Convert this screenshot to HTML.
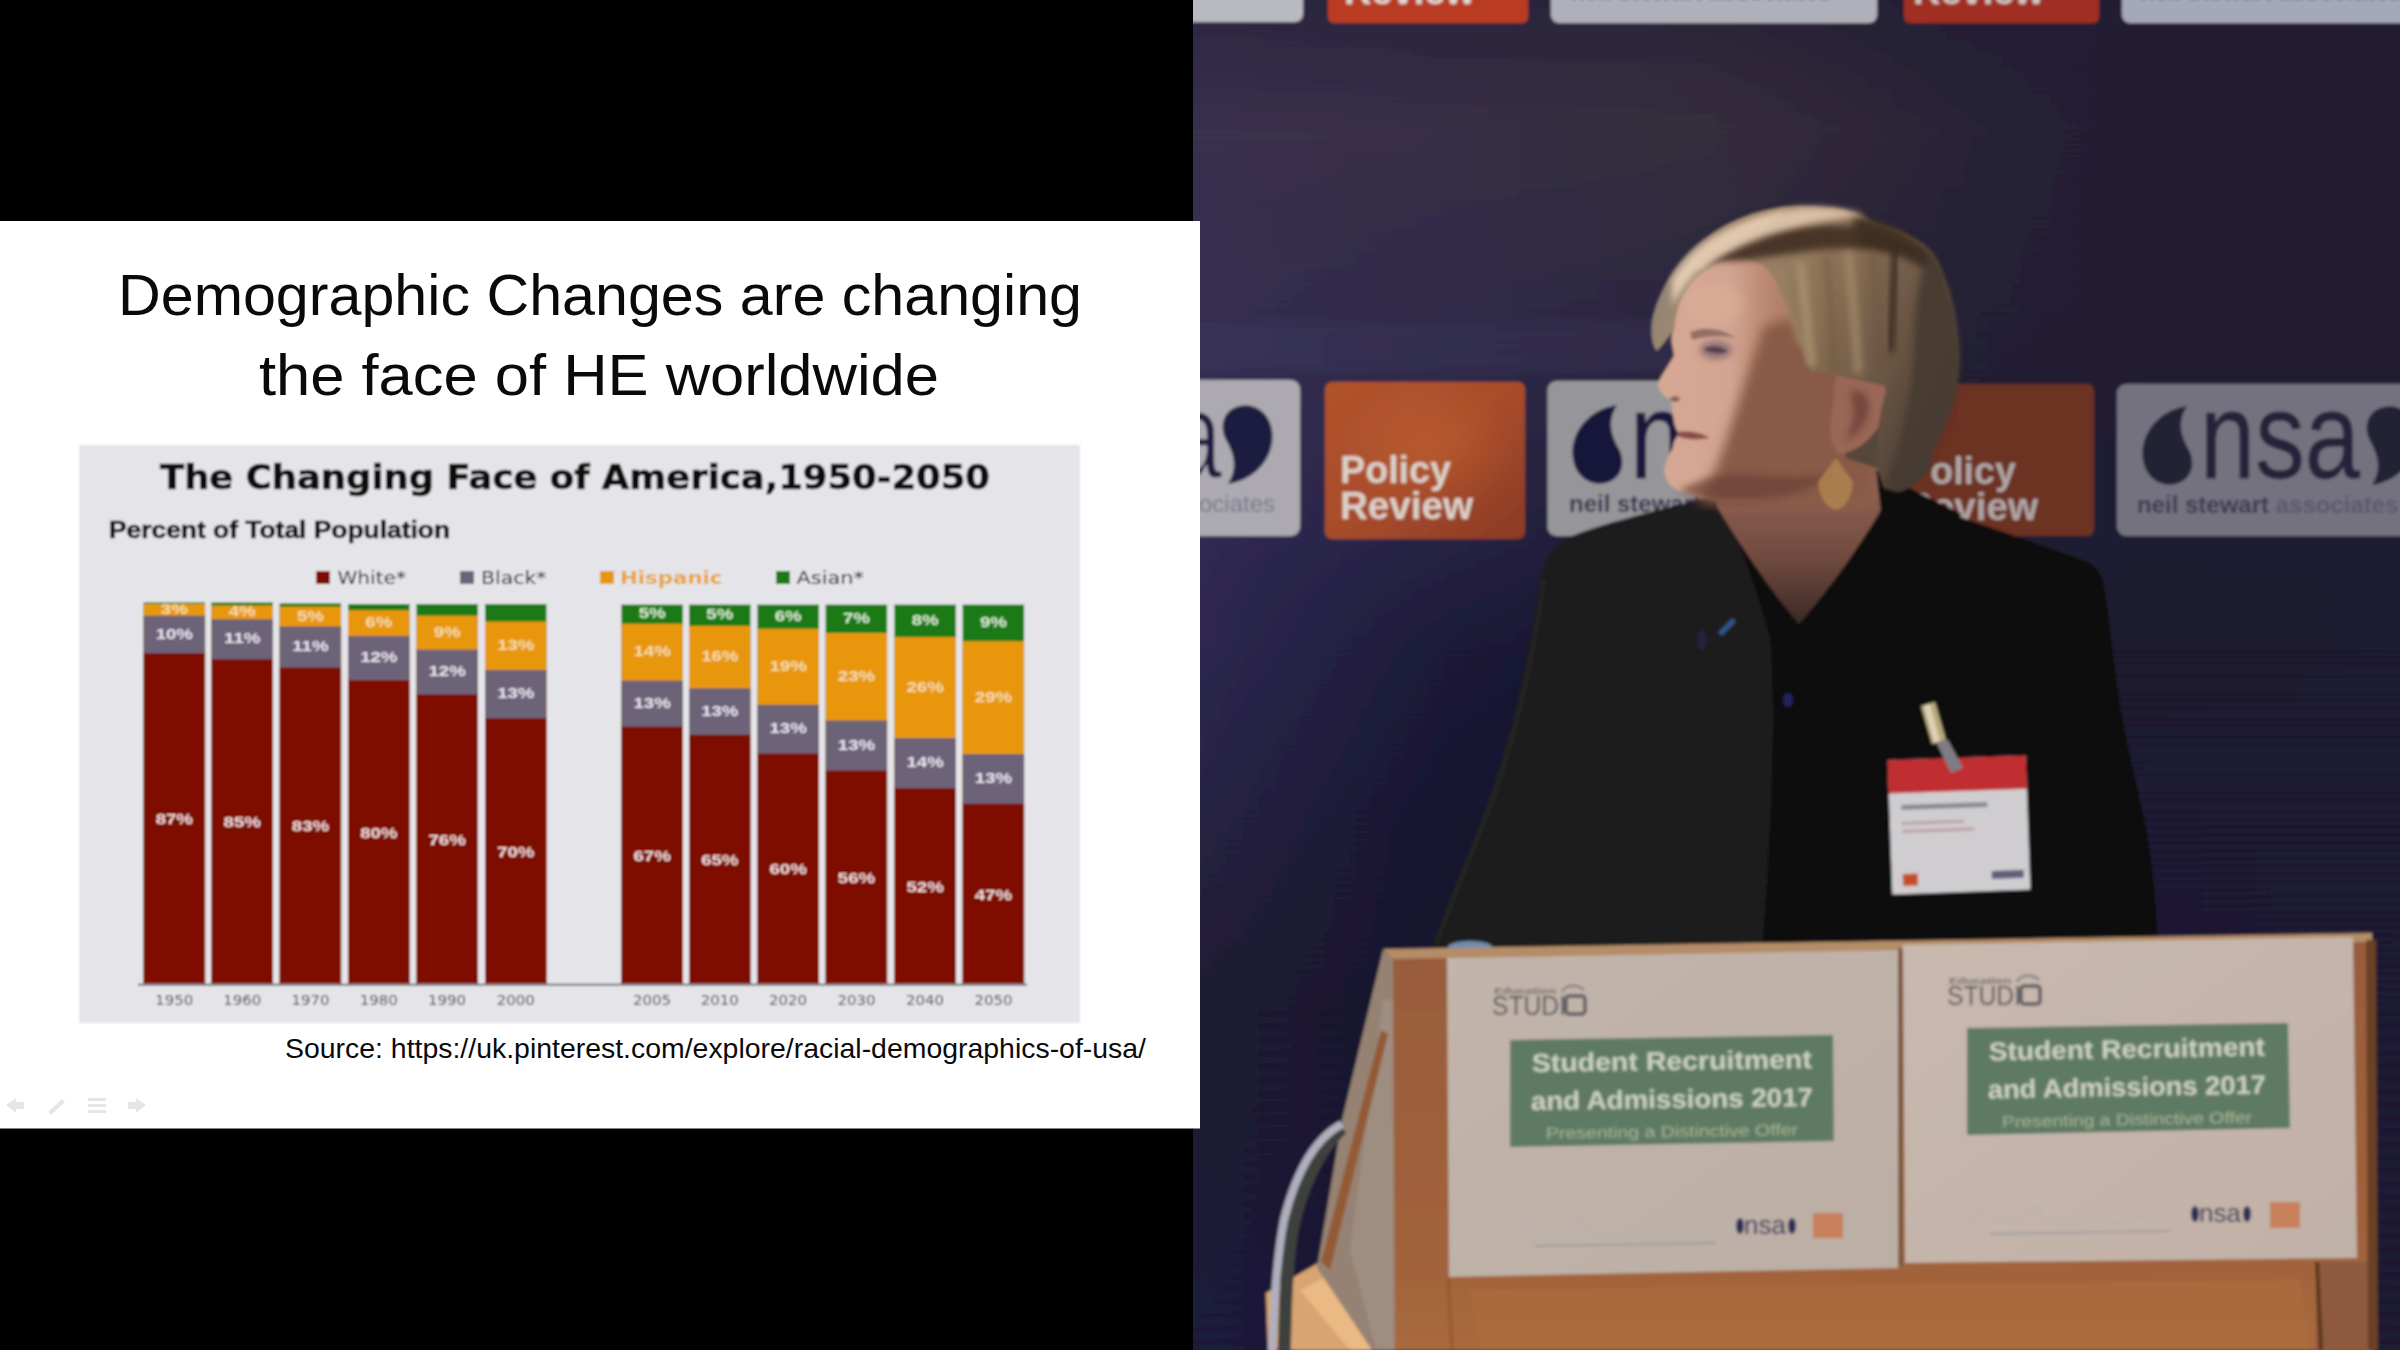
<!DOCTYPE html>
<html lang="en"><head><meta charset="utf-8"><title>Demographic Changes are changing the face of HE worldwide</title>
<style>html,body{margin:0;padding:0;background:#000;width:2400px;height:1350px;overflow:hidden}svg{display:block}</style>
</head><body>
<svg xmlns="http://www.w3.org/2000/svg" width="2400" height="1350" viewBox="0 0 2400 1350">
<defs>
<filter id="soft" x="-2%" y="-2%" width="104%" height="104%"><feGaussianBlur stdDeviation="0.8"/></filter>
<filter id="pblur" x="0" y="0" width="100%" height="100%"><feGaussianBlur stdDeviation="1.4"/></filter>
<filter id="b3" x="-20%" y="-20%" width="140%" height="140%"><feGaussianBlur stdDeviation="3"/></filter>
<filter id="b6" x="-30%" y="-30%" width="160%" height="160%"><feGaussianBlur stdDeviation="6"/></filter>
<linearGradient id="org" x1="0" y1="0" x2="1" y2="1">
  <stop offset="0" stop-color="#b0522c"/><stop offset="0.5" stop-color="#a84c2b"/><stop offset="1" stop-color="#8a3a26"/>
</linearGradient>
<radialGradient id="rgo" cx="0.5" cy="0.5" r="0.5"><stop offset="0" stop-color="#c06230" stop-opacity="0.55"/><stop offset="1" stop-color="#c06230" stop-opacity="0"/></radialGradient>
<linearGradient id="hair" gradientUnits="userSpaceOnUse" x1="1660" y1="260" x2="1960" y2="400">
  <stop offset="0" stop-color="#8c8078"/><stop offset="0.15" stop-color="#a08a6e"/><stop offset="0.5" stop-color="#8a7055"/><stop offset="0.75" stop-color="#6a5644"/><stop offset="1" stop-color="#483c32"/>
</linearGradient>
<linearGradient id="face" gradientUnits="userSpaceOnUse" x1="1660" y1="0" x2="1860" y2="0">
  <stop offset="0" stop-color="#d6a894"/><stop offset="0.35" stop-color="#d2a491"/><stop offset="0.55" stop-color="#b8866f"/><stop offset="1" stop-color="#8a5a48"/>
</linearGradient>
<linearGradient id="neck" gradientUnits="userSpaceOnUse" x1="0" y1="495" x2="0" y2="625">
  <stop offset="0" stop-color="#8e5f50"/><stop offset="0.5" stop-color="#6e493e"/><stop offset="1" stop-color="#3a2824"/>
</linearGradient>
<linearGradient id="wood" gradientUnits="userSpaceOnUse" x1="0" y1="950" x2="0" y2="1350">
  <stop offset="0" stop-color="#985c3a"/><stop offset="0.75" stop-color="#a0623a"/><stop offset="1" stop-color="#a8693c"/>
</linearGradient>
<linearGradient id="paper" x1="0" y1="0" x2="1" y2="1">
  <stop offset="0" stop-color="#c2b4aa"/><stop offset="1" stop-color="#bbaea4"/>
</linearGradient>
<linearGradient id="paper2" x1="0" y1="0" x2="1" y2="1">
  <stop offset="0" stop-color="#c8b8ae"/><stop offset="1" stop-color="#c0b0a6"/>
</linearGradient>
<clipPath id="pclip"><rect x="1193" y="0" width="1207" height="1350"/></clipPath>

<linearGradient id="gh0" gradientUnits="userSpaceOnUse" x1="1193" y1="0" x2="2400" y2="0"><stop offset="0.000" stop-color="rgb(44,38,64)"/><stop offset="0.213" stop-color="rgb(42,36,60)"/><stop offset="0.420" stop-color="rgb(42,36,56)"/><stop offset="0.627" stop-color="rgb(36,30,52)"/><stop offset="0.793" stop-color="rgb(33,28,52)"/><stop offset="1.000" stop-color="rgb(32,27,52)"/></linearGradient>
<linearGradient id="gh1" gradientUnits="userSpaceOnUse" x1="1193" y1="0" x2="2400" y2="0"><stop offset="0.000" stop-color="rgb(58,48,78)"/><stop offset="0.213" stop-color="rgb(55,47,70)"/><stop offset="0.420" stop-color="rgb(53,46,60)"/><stop offset="0.627" stop-color="rgb(42,36,55)"/><stop offset="0.793" stop-color="rgb(34,29,50)"/><stop offset="1.000" stop-color="rgb(33,28,50)"/></linearGradient>
<linearGradient id="gh2" gradientUnits="userSpaceOnUse" x1="1193" y1="0" x2="2400" y2="0"><stop offset="0.000" stop-color="rgb(53,46,80)"/><stop offset="0.213" stop-color="rgb(48,42,72)"/><stop offset="0.420" stop-color="rgb(44,39,62)"/><stop offset="0.627" stop-color="rgb(38,33,54)"/><stop offset="0.793" stop-color="rgb(33,28,50)"/><stop offset="1.000" stop-color="rgb(33,28,50)"/></linearGradient>
<linearGradient id="gh3" gradientUnits="userSpaceOnUse" x1="1193" y1="0" x2="2400" y2="0"><stop offset="0.000" stop-color="rgb(52,46,82)"/><stop offset="0.213" stop-color="rgb(46,41,72)"/><stop offset="0.420" stop-color="rgb(42,38,62)"/><stop offset="0.627" stop-color="rgb(36,32,52)"/><stop offset="0.793" stop-color="rgb(32,28,50)"/><stop offset="1.000" stop-color="rgb(32,28,50)"/></linearGradient>
<linearGradient id="gh4" gradientUnits="userSpaceOnUse" x1="1193" y1="0" x2="2400" y2="0"><stop offset="0.000" stop-color="rgb(48,42,82)"/><stop offset="0.213" stop-color="rgb(38,34,66)"/><stop offset="0.420" stop-color="rgb(28,26,52)"/><stop offset="0.627" stop-color="rgb(30,28,50)"/><stop offset="0.793" stop-color="rgb(30,28,48)"/><stop offset="1.000" stop-color="rgb(30,27,48)"/></linearGradient>
<linearGradient id="gh5" gradientUnits="userSpaceOnUse" x1="1193" y1="0" x2="2400" y2="0"><stop offset="0.000" stop-color="rgb(46,40,80)"/><stop offset="0.213" stop-color="rgb(28,26,56)"/><stop offset="0.420" stop-color="rgb(20,20,46)"/><stop offset="0.627" stop-color="rgb(28,26,46)"/><stop offset="0.793" stop-color="rgb(28,26,46)"/><stop offset="1.000" stop-color="rgb(28,26,48)"/></linearGradient>
<linearGradient id="gh6" gradientUnits="userSpaceOnUse" x1="1193" y1="0" x2="2400" y2="0"><stop offset="0.000" stop-color="rgb(40,35,68)"/><stop offset="0.213" stop-color="rgb(22,21,48)"/><stop offset="0.420" stop-color="rgb(18,18,40)"/><stop offset="0.627" stop-color="rgb(26,24,46)"/><stop offset="0.793" stop-color="rgb(29,26,50)"/><stop offset="1.000" stop-color="rgb(30,26,50)"/></linearGradient>
<linearGradient id="gh7" gradientUnits="userSpaceOnUse" x1="1193" y1="0" x2="2400" y2="0"><stop offset="0.000" stop-color="rgb(30,28,50)"/><stop offset="0.213" stop-color="rgb(22,21,44)"/><stop offset="0.420" stop-color="rgb(18,18,40)"/><stop offset="0.627" stop-color="rgb(24,22,44)"/><stop offset="0.793" stop-color="rgb(27,25,48)"/><stop offset="1.000" stop-color="rgb(28,26,50)"/></linearGradient>
<linearGradient id="gh8" gradientUnits="userSpaceOnUse" x1="1193" y1="0" x2="2400" y2="0"><stop offset="0.000" stop-color="rgb(28,26,60)"/><stop offset="0.213" stop-color="rgb(24,22,50)"/><stop offset="0.420" stop-color="rgb(18,18,40)"/><stop offset="0.627" stop-color="rgb(22,20,40)"/><stop offset="0.793" stop-color="rgb(26,24,46)"/><stop offset="1.000" stop-color="rgb(28,26,50)"/></linearGradient>
<linearGradient id="gv0" gradientUnits="userSpaceOnUse" x1="0" y1="0" x2="0" y2="130"><stop offset="0" stop-color="#000"/><stop offset="1" stop-color="#fff"/></linearGradient>
<mask id="mv0" maskUnits="userSpaceOnUse" x="1180" y="-1" width="1230" height="132"><rect x="1180" y="-1" width="1230" height="132" fill="url(#gv0)"/></mask>
<linearGradient id="gv1" gradientUnits="userSpaceOnUse" x1="0" y1="130" x2="0" y2="300"><stop offset="0" stop-color="#000"/><stop offset="1" stop-color="#fff"/></linearGradient>
<mask id="mv1" maskUnits="userSpaceOnUse" x="1180" y="129" width="1230" height="172"><rect x="1180" y="129" width="1230" height="172" fill="url(#gv1)"/></mask>
<linearGradient id="gv2" gradientUnits="userSpaceOnUse" x1="0" y1="300" x2="0" y2="370"><stop offset="0" stop-color="#000"/><stop offset="1" stop-color="#fff"/></linearGradient>
<mask id="mv2" maskUnits="userSpaceOnUse" x="1180" y="299" width="1230" height="72"><rect x="1180" y="299" width="1230" height="72" fill="url(#gv2)"/></mask>
<linearGradient id="gv3" gradientUnits="userSpaceOnUse" x1="0" y1="370" x2="0" y2="545"><stop offset="0" stop-color="#000"/><stop offset="1" stop-color="#fff"/></linearGradient>
<mask id="mv3" maskUnits="userSpaceOnUse" x="1180" y="369" width="1230" height="177"><rect x="1180" y="369" width="1230" height="177" fill="url(#gv3)"/></mask>
<linearGradient id="gv4" gradientUnits="userSpaceOnUse" x1="0" y1="545" x2="0" y2="650"><stop offset="0" stop-color="#000"/><stop offset="1" stop-color="#fff"/></linearGradient>
<mask id="mv4" maskUnits="userSpaceOnUse" x="1180" y="544" width="1230" height="107"><rect x="1180" y="544" width="1230" height="107" fill="url(#gv4)"/></mask>
<linearGradient id="gv5" gradientUnits="userSpaceOnUse" x1="0" y1="650" x2="0" y2="810"><stop offset="0" stop-color="#000"/><stop offset="1" stop-color="#fff"/></linearGradient>
<mask id="mv5" maskUnits="userSpaceOnUse" x="1180" y="649" width="1230" height="162"><rect x="1180" y="649" width="1230" height="162" fill="url(#gv5)"/></mask>
<linearGradient id="gv6" gradientUnits="userSpaceOnUse" x1="0" y1="810" x2="0" y2="1010"><stop offset="0" stop-color="#000"/><stop offset="1" stop-color="#fff"/></linearGradient>
<mask id="mv6" maskUnits="userSpaceOnUse" x="1180" y="809" width="1230" height="202"><rect x="1180" y="809" width="1230" height="202" fill="url(#gv6)"/></mask>
<linearGradient id="gv7" gradientUnits="userSpaceOnUse" x1="0" y1="1010" x2="0" y2="1350"><stop offset="0" stop-color="#000"/><stop offset="1" stop-color="#fff"/></linearGradient>
<mask id="mv7" maskUnits="userSpaceOnUse" x="1180" y="1009" width="1230" height="342"><rect x="1180" y="1009" width="1230" height="342" fill="url(#gv7)"/></mask>
</defs>
<rect x="0" y="0" width="2400" height="1350" fill="#000"/>
<g id="photo">
<g clip-path="url(#pclip)"><g filter="url(#pblur)">
<rect x="1180" y="-10" width="1230" height="140.6" fill="url(#gh0)"/>
<rect x="1180" y="0" width="1230" height="130.6" fill="url(#gh1)" mask="url(#mv0)"/>
<rect x="1180" y="130" width="1230" height="170.6" fill="url(#gh1)"/>
<rect x="1180" y="130" width="1230" height="170.6" fill="url(#gh2)" mask="url(#mv1)"/>
<rect x="1180" y="300" width="1230" height="70.6" fill="url(#gh2)"/>
<rect x="1180" y="300" width="1230" height="70.6" fill="url(#gh3)" mask="url(#mv2)"/>
<rect x="1180" y="370" width="1230" height="175.6" fill="url(#gh3)"/>
<rect x="1180" y="370" width="1230" height="175.6" fill="url(#gh4)" mask="url(#mv3)"/>
<rect x="1180" y="545" width="1230" height="105.6" fill="url(#gh4)"/>
<rect x="1180" y="545" width="1230" height="105.6" fill="url(#gh5)" mask="url(#mv4)"/>
<rect x="1180" y="650" width="1230" height="160.6" fill="url(#gh5)"/>
<rect x="1180" y="650" width="1230" height="160.6" fill="url(#gh6)" mask="url(#mv5)"/>
<rect x="1180" y="810" width="1230" height="200.6" fill="url(#gh6)"/>
<rect x="1180" y="810" width="1230" height="200.6" fill="url(#gh7)" mask="url(#mv6)"/>
<rect x="1180" y="1010" width="1230" height="350.6" fill="url(#gh7)"/>
<rect x="1180" y="1010" width="1230" height="340.6" fill="url(#gh8)" mask="url(#mv7)"/>
<rect x="1193" y="322" width="700" height="50" fill="#5a5688" opacity="0.10" filter="url(#b6)"/>
<g id="toptiles">
<rect x="1180" y="-20" width="123" height="42" rx="8" fill="#b9b9c0"/>
<rect x="1328" y="-20" width="200" height="43" rx="6" fill="#b93a23"/>
<rect x="1551" y="-20" width="326" height="43" rx="8" fill="#afb0ba"/>
<rect x="1904" y="-20" width="195" height="43" rx="6" fill="#a02d23"/>
<rect x="2122" y="-20" width="300" height="43" rx="8" fill="#a5a8b9"/>
<text x="1344" y="4" font-family='"Liberation Sans", sans-serif' font-weight="700" font-size="38" fill="#e1d7d2">Review</text>
<text x="1913" y="4" font-family='"Liberation Sans", sans-serif' font-weight="700" font-size="38" fill="#cfc5c2">Review</text>
<text x="1570" y="0" font-family='"Liberation Sans", sans-serif' font-weight="700" font-size="24" fill="#5e5d78" opacity="0.8">neil stewart associates</text>
<text x="2140" y="0" font-family='"Liberation Sans", sans-serif' font-weight="700" font-size="24" fill="#5a5a72" opacity="0.8">neil stewart associates</text>
</g>
<g id="tiles">
<rect x="1150" y="380" width="150" height="156" rx="9" fill="#acaab0"/>
<text x="1170" y="477.5" font-family='"Liberation Sans", sans-serif' font-size="122" fill="#1c1a40" stroke="#acaab0" stroke-width="1.5" textLength="52" lengthAdjust="spacingAndGlyphs">a</text>
<path d="M1228 484 C1256 480 1276 456 1272 430 C1269 410 1250 400 1234 408 C1222 414 1220 428 1226 440 C1234 454 1238 468 1228 484 Z" fill="#1c1a40"/>
<text x="1199" y="512" font-family='"Liberation Sans", sans-serif' font-weight="400" font-size="24" fill="#77768a">ociates</text>
<rect x="1325" y="382" width="200" height="157" rx="7" fill="url(#org)"/>
<ellipse cx="1425" cy="445" rx="90" ry="70" fill="url(#rgo)"/>
<text x="1340" y="482.5" font-family='"Liberation Sans", sans-serif' font-weight="700" font-size="39" fill="#dcd2c8" textLength="111" lengthAdjust="spacingAndGlyphs">Policy</text>
<text x="1340" y="519" font-family='"Liberation Sans", sans-serif' font-weight="700" font-size="39" fill="#dcd2c8" textLength="133" lengthAdjust="spacingAndGlyphs">Review</text>
<rect x="1547.5" y="381" width="330" height="155" rx="9" fill="#96969a"/>
<path d="M1617 405 C1589 409 1569 433 1573 459 C1576 479 1595 489 1611 481 C1623 475 1625 461 1619 449 C1611 435 1607 421 1617 405 Z" fill="#18173a"/>
<text x="1630" y="477.5" font-family='"Liberation Sans", sans-serif' font-size="122" fill="#1a183c" stroke="#1a183c" stroke-width="0.8" textLength="160" lengthAdjust="spacingAndGlyphs">nsa</text>
<text x="1569" y="512" font-family='"Liberation Sans", sans-serif' font-weight="700" font-size="24" fill="#2f2d4c">neil stewart</text>
<rect x="1895" y="384" width="199" height="152" rx="7" fill="#6c3024"/>
<text x="1905" y="484" font-family='"Liberation Sans", sans-serif' font-weight="700" font-size="39" fill="#b0a6a6" textLength="111" lengthAdjust="spacingAndGlyphs">Policy</text>
<text x="1905" y="520" font-family='"Liberation Sans", sans-serif' font-weight="700" font-size="39" fill="#b0a6a6" textLength="133" lengthAdjust="spacingAndGlyphs">Review</text>
<rect x="2117" y="384" width="310" height="152" rx="9" fill="#73727e"/>
<path d="M2187 406 C2159 410 2139 434 2143 460 C2146 480 2165 490 2181 482 C2193 476 2195 462 2189 450 C2181 436 2177 422 2187 406 Z" fill="#232136"/>
<text x="2200" y="477.5" font-family='"Liberation Sans", sans-serif' font-size="122" fill="#25233a" stroke="#25233a" stroke-width="0.8" textLength="160" lengthAdjust="spacingAndGlyphs">nsa</text>
<path d="M2372 485 C2400 481 2420 457 2416 431 C2413 411 2394 401 2378 409 C2366 415 2364 429 2370 441 C2378 455 2382 469 2372 485 Z" fill="#232136"/>
<text x="2137" y="512.5" font-family='"Liberation Sans", sans-serif' font-weight="700" font-size="24" fill="#3a394e">neil stewart <tspan fill="#5a5a6c">associates</tspan></text>
</g>
<g id="person">
<!-- jacket (left, lighter) -->
<path d="M1712 497 C1660 509 1600 524 1567 538 C1552 546 1546 558 1542 572 C1534 610 1528 650 1520 690 C1508 740 1494 790 1478 830 C1462 870 1444 910 1432 948 L2158 948 C2156 900 2152 860 2146 826 C2138 790 2128 750 2122 716 C2114 670 2110 620 2104 584 C2100 572 2096 566 2088 562 C2040 544 1990 528 1955 515 C1930 506 1905 498 1889 490 L1880 470 L1720 470 Z" fill="#1c1a1b"/>
<!-- jacket right, darker -->
<path d="M1806 660 C1850 610 1886 550 1890 490 C1905 498 1930 506 1955 515 C1990 528 2040 544 2088 562 C2096 566 2100 572 2104 584 C2110 620 2114 670 2122 716 C2128 750 2138 790 2146 826 C2152 860 2156 900 2158 948 L1770 948 C1776 860 1786 750 1806 660 Z" fill="#0b0a0c"/>
<!-- shirt -->
<path d="M1728 516 C1744 556 1760 600 1770 640 C1776 720 1770 840 1762 948 L1790 948 C1794 860 1804 740 1824 660 C1852 610 1880 556 1888 506 L1800 622 Z" fill="#100f11"/>
<path d="M1544 580 C1536 640 1520 720 1496 790 C1478 840 1452 900 1436 944" stroke="#262425" stroke-width="6" fill="none" opacity="0.7"/>
<!-- neck skin -->
<path d="M1726 470 L1716 505 C1740 545 1770 590 1799 624 C1828 590 1862 545 1886 500 L1892 440 Z" fill="url(#neck)"/>
<!-- collar back -->
<path d="M1876 470 C1900 484 1930 498 1962 514 L1890 580 C1884 540 1880 505 1876 470 Z" fill="#0b0a0c"/>
<!-- face -->
<path d="M1710 240 L1676 296 C1672 315 1672 325 1675 327 C1671 333 1671 340 1672 344 C1673 350 1674 354 1674 356 C1668 366 1661 376 1658 383 C1658 390 1664 397 1671 400 C1672 408 1673 416 1674 422 C1675 427 1677 431 1679 434 C1676 438 1673 442 1673 447 C1669 455 1665 463 1664 471 C1665 480 1671 487 1679 491 C1690 495 1700 498 1711 500 C1740 506 1800 500 1836 474 L1856 452 L1892 380 L1800 240 Z" fill="url(#face)"/>
<path d="M1764 326 C1752 360 1740 400 1726 440 C1718 465 1708 488 1696 504 L1866 504 L1896 380 L1800 316 Z" fill="#885a47" filter="url(#b6)"/>
<ellipse cx="1714" cy="304" rx="30" ry="20" fill="#dcae9a" opacity="0.7" filter="url(#b6)"/>
<path d="M1679 491 C1690 495 1700 498 1711 500 C1740 506 1800 500 1836 474 C1810 478 1780 478 1750 474 C1720 472 1696 480 1679 491 Z" fill="#6a4237" opacity="0.7" filter="url(#b3)"/>
<!-- brow / eye / mouth / nostril -->
<path d="M1690 332 C1704 326 1722 328 1736 338 C1722 335 1706 336 1692 340 Z" fill="#7a5a54" opacity="0.7"/>
<ellipse cx="1716" cy="350" rx="16" ry="9" fill="#5f4b5f" opacity="0.6" filter="url(#b3)"/>
<path d="M1704 349 C1710 345 1722 346 1728 352 C1720 354 1710 354 1704 349 Z" fill="#4a3a4c" opacity="0.85"/>
<path d="M1678 432 C1688 430 1700 432 1710 438 C1698 440 1688 440 1679 437 Z" fill="#8a4c4c"/>
<ellipse cx="1675" cy="399" rx="5" ry="3" fill="#7c5046" opacity="0.8"/>
<!-- behind ear filler -->
<path d="M1836 372 L1894 378 L1894 474 L1846 458 Z" fill="#55473a"/>
<!-- ear -->
<path d="M1836 376 C1856 368 1886 374 1888 396 C1888 420 1868 450 1840 454 C1830 448 1828 430 1832 410 C1834 396 1834 386 1836 376 Z" fill="#9a6656"/>
<path d="M1850 392 C1864 388 1872 398 1868 414 C1864 428 1854 438 1846 440 C1854 424 1856 408 1850 392 Z" fill="#6a3e36" opacity="0.75" filter="url(#b3)"/>
<!-- earring -->
<path d="M1836 458 L1853 482 C1852 496 1846 508 1836 510 C1826 508 1819 496 1818 482 Z" fill="#b48650" opacity="0.8"/>
<!-- hair -->
<path d="M1657 351 C1650 343 1651 325 1653 317 C1656 305 1660 296 1664 288 C1670 276 1677 266 1686 256 C1694 247 1704 239 1715 232 C1727 224 1739 219 1752 214 C1768 209 1784 206 1801 206 C1816 206 1831 207 1845 210 C1856 212 1866 217 1874 222 C1886 226 1897 229 1906 234 C1916 239 1924 244 1931 251 C1938 260 1942 270 1945 280 C1950 292 1953 304 1955 317 C1957 330 1959 343 1959 356 C1959 369 1958 381 1955 393 C1953 404 1949 415 1945 425 C1941 435 1936 445 1931 454 C1927 461 1922 468 1916 474 C1910 480 1903 486 1896 491 L1884 488 C1880 478 1877 468 1877 459 C1877 446 1878 434 1879 422 C1881 410 1884 397 1887 386 L1838 376 C1828 374 1819 372 1811 371 C1806 362 1802 352 1799 342 C1795 332 1792 322 1789 312 C1785 302 1781 292 1777 283 C1772 272 1764 265 1757 263 C1745 258 1733 258 1723 261 C1712 266 1704 272 1698 276 C1690 284 1683 294 1679 305 C1676 314 1675 322 1675 327 C1670 336 1662 345 1657 351 Z" fill="url(#hair)"/>
<!-- hair top gold band -->
<path d="M1700 262 C1730 236 1790 222 1850 226 C1890 230 1915 244 1928 262 C1900 250 1860 246 1820 250 C1780 254 1750 262 1723 261 C1712 262 1706 262 1700 262 Z" fill="#463226" opacity="0.95" filter="url(#b3)"/>
<path d="M1850 214 C1880 218 1910 232 1930 252 C1936 262 1940 272 1942 282 C1920 262 1890 250 1860 246 Z" fill="#3e2e24" opacity="0.9" filter="url(#b3)"/>
<!-- top highlight -->
<path d="M1672 280 C1690 248 1730 222 1790 210 C1770 224 1740 240 1712 258 C1696 270 1682 288 1672 306 Z" fill="#e6ceb4" opacity="0.95" filter="url(#b3)"/>
<path d="M1690 262 C1712 236 1752 218 1800 208 C1830 206 1850 210 1866 216 C1830 218 1790 226 1756 240 C1730 250 1710 262 1700 270 Z" fill="#e1c8af" opacity="0.9" filter="url(#b3)"/>
<!-- back shadow -->
<path d="M1931 251 C1938 260 1942 270 1945 280 C1950 292 1953 304 1955 317 C1957 330 1959 343 1959 356 C1959 369 1958 381 1955 393 C1953 404 1949 415 1945 425 C1941 435 1936 445 1931 454 C1927 461 1922 468 1916 474 C1910 480 1903 486 1896 491 L1884 488 C1900 450 1912 400 1914 350 C1914 310 1918 276 1931 251 Z" fill="#463a30" opacity="0.9" filter="url(#b3)"/>
<path d="M1896 250 C1894 284 1892 318 1890 352" stroke="#32241c" stroke-width="8" fill="none" opacity="0.8" filter="url(#b3)"/>
<!-- strands -->
<g fill="none" filter="url(#b3)">
<path d="M1800 262 C1804 290 1806 320 1812 366" stroke="#b09474" stroke-width="9" opacity="0.75"/>
<path d="M1826 256 C1830 290 1832 330 1834 372" stroke="#6e5640" stroke-width="6" opacity="0.6"/>
<path d="M1848 252 C1852 290 1856 330 1858 374" stroke="#a88c6c" stroke-width="9" opacity="0.7"/>
<path d="M1872 250 C1876 290 1878 330 1880 380" stroke="#6a523e" stroke-width="6" opacity="0.55"/>
<path d="M1780 270 C1784 290 1790 316 1800 346" stroke="#a48868" stroke-width="6" opacity="0.6"/>
</g>
<!-- lower back bulge -->
<path d="M1931 452 C1934 460 1930 470 1922 478 C1914 486 1904 492 1896 492 L1890 470 Z" fill="#443a30"/>
<!-- badge -->
<g transform="rotate(-2 1960 825)">
<rect x="1890" y="758" width="138" height="134" fill="#cfcdd0"/>
<rect x="1890" y="758" width="138" height="33" fill="#c02e30"/>
<rect x="1902" y="803" width="86" height="5" fill="#8a8a92"/>
<rect x="1902" y="820" width="62" height="3" fill="#bfa0a0"/>
<rect x="1902" y="828" width="72" height="3" fill="#bfa0a0"/>
<rect x="1901" y="872" width="15" height="12" fill="#c44e28"/>
<rect x="1990" y="872" width="32" height="8" fill="#5e5e78"/>
</g>
<path d="M1921 706 L1935 702 L1946 740 L1932 744 Z" fill="#b8a87c"/>
<path d="M1924 706 L1930 704 L1940 741 L1934 743 Z" fill="#dcd2b4"/>
<path d="M1936 742 L1948 740 L1963 768 L1951 773 Z" fill="#807c84"/>
<!-- mic / pen / button -->
<path d="M1720 634 L1734 620" stroke="#3566a8" stroke-width="5" opacity="0.8"/>
<ellipse cx="1702" cy="640" rx="5" ry="10" fill="#24233a"/>
<ellipse cx="1788" cy="700" rx="5" ry="7" fill="#232158"/>
<ellipse cx="1470" cy="947" rx="22" ry="6" fill="#6f8cb0"/>
</g>
<!-- lectern -->
<g id="lectern">
<!-- lower-left step -->
<path d="M1266 1293 L1320 1262 L1400 1350 L1268 1350 Z" fill="#d8a472"/>
<path d="M1300 1290 L1330 1275 L1396 1350 L1350 1350 Z" fill="#eab984"/>
<!-- side panel -->
<path d="M1383 950 L1394 958 L1396 1350 L1372 1350 L1317 1268 L1342 1120 Z" fill="#968273"/>
<path d="M1383 1000 L1393 1000 L1394 1350 L1376 1350 L1350 1250 Z" fill="#a09084" opacity="0.8"/>
<path d="M1381 1030 L1388 1034 L1330 1270 L1321 1262 Z" fill="#935a34"/>
<!-- cable -->
<path d="M1342 1128 C1318 1150 1300 1190 1292 1230 C1284 1280 1286 1320 1284 1352" stroke="#3c403c" stroke-width="13" fill="none"/>
<path d="M1342 1124 C1312 1140 1294 1180 1284 1220 C1276 1262 1274 1310 1272 1352" stroke="#afafbe" stroke-width="8" fill="none"/>
<!-- front -->
<path d="M1393 956 L2372 938 L2374 1350 L1395 1350 Z" fill="url(#wood)"/>
<path d="M1383 949 L2372 933 L2372 942 L1393 959 Z" fill="#b48c68"/>
<path d="M1470 1290 L2300 1280 L2310 1350 L1480 1350 Z" fill="#b0703e" opacity="0.5"/>
<rect x="2316" y="1262" width="58" height="90" fill="#8e5a3c"/>
<path d="M2317 1262 L2321 1350" stroke="#5a3418" stroke-width="4"/>
<path d="M1448 1278 L1452 1350" stroke="#8a5222" stroke-width="3" opacity="0.6"/>
<path d="M2366 940 L2376 940 L2378 1350 L2368 1350 Z" fill="#6a4028"/>
<!-- paper 1 -->
<path d="M1447 958 L1898 950 L1898 1268 L1449 1277 Z" fill="url(#paper)"/>
<!-- paper 2 -->
<path d="M1903 945 L2353 937 L2357 1258 L1905 1263 Z" fill="url(#paper2)"/>
<path d="M1900 948 L1901 1266" stroke="#6b5a4a" stroke-width="3"/>
<!-- banner 1 -->
<path d="M1510 1040 L1833 1035 L1834 1141 L1510 1147 Z" fill="#5f7a64"/>
<text x="1532" y="1070" font-family='"Liberation Sans", sans-serif' font-weight="700" font-size="26" fill="#cdd2be" textLength="280" lengthAdjust="spacingAndGlyphs" transform="rotate(-0.8 1670 1070)">Student Recruitment</text>
<text x="1531" y="1108" font-family='"Liberation Sans", sans-serif' font-weight="700" font-size="26" fill="#cdd2be" textLength="282" lengthAdjust="spacingAndGlyphs" transform="rotate(-0.8 1670 1108)">and Admissions 2017</text>
<text x="1546" y="1137" font-family='"Liberation Sans", sans-serif' font-size="16" fill="#a4b492" textLength="252" lengthAdjust="spacingAndGlyphs" transform="rotate(-0.8 1670 1137)">Presenting a Distinctive Offer</text>
<!-- banner 2 -->
<path d="M1967 1028 L2288 1023 L2290 1128 L1967 1135 Z" fill="#5f7a64"/>
<text x="1989" y="1058" font-family='"Liberation Sans", sans-serif' font-weight="700" font-size="26" fill="#cdd2be" textLength="276" lengthAdjust="spacingAndGlyphs" transform="rotate(-1 2127 1058)">Student Recruitment</text>
<text x="1988" y="1096" font-family='"Liberation Sans", sans-serif' font-weight="700" font-size="26" fill="#cdd2be" textLength="278" lengthAdjust="spacingAndGlyphs" transform="rotate(-1 2127 1096)">and Admissions 2017</text>
<text x="2002" y="1125" font-family='"Liberation Sans", sans-serif' font-size="16" fill="#a4b492" textLength="250" lengthAdjust="spacingAndGlyphs" transform="rotate(-1 2127 1125)">Presenting a Distinctive Offer</text>
<!-- studio logos -->
<text x="1492" y="1015" font-family='"Liberation Sans", sans-serif' font-size="27" fill="#55555a" textLength="74" lengthAdjust="spacingAndGlyphs">STUDI</text>
<rect x="1566" y="996" width="19" height="18" rx="3" fill="none" stroke="#5a5a60" stroke-width="3.5"/>
<text x="1494" y="994" font-family='"Liberation Sans", sans-serif' font-weight="700" font-size="9" fill="#6a6a70" textLength="62" lengthAdjust="spacingAndGlyphs">Education</text>
<path d="M1562 992 C1566 984 1578 984 1584 990" stroke="#77777c" stroke-width="2" fill="none"/>
<text x="1947" y="1005" font-family='"Liberation Sans", sans-serif' font-size="27" fill="#55555a" textLength="74" lengthAdjust="spacingAndGlyphs">STUDI</text>
<rect x="2021" y="986" width="19" height="18" rx="3" fill="none" stroke="#5a5a60" stroke-width="3.5"/>
<text x="1949" y="984" font-family='"Liberation Sans", sans-serif' font-weight="700" font-size="9" fill="#6a6a70" textLength="62" lengthAdjust="spacingAndGlyphs">Education</text>
<path d="M2017 982 C2021 974 2033 974 2039 980" stroke="#77777c" stroke-width="2" fill="none"/>
<!-- footer logos -->
<path d="M1498 1240 L1520 1230 L1528 1222 L1534 1232 L1560 1234 L1580 1218 L1590 1234 L1640 1238 L1690 1228 L1700 1236" stroke="#b4b2b2" stroke-width="1.4" opacity="0.7" fill="none"/>
<path d="M1535 1246 L1715 1243" stroke="#9a9aa2" stroke-width="1.8" opacity="0.8"/>
<text x="1744" y="1234" font-family='"Liberation Sans", sans-serif' font-size="26" fill="#2e2e58" textLength="42" lengthAdjust="spacingAndGlyphs">nsa</text>
<ellipse cx="1740" cy="1226" rx="4" ry="8" fill="#2e2e58"/><ellipse cx="1792" cy="1226" rx="4" ry="8" fill="#2e2e58"/>
<rect x="1813" y="1213" width="30" height="25" fill="#c8805c"/>
<path d="M1954 1228 L1976 1218 L1984 1210 L1990 1220 L2016 1222 L2036 1206 L2046 1222 L2096 1226 L2146 1216 L2156 1224" stroke="#b4b2b2" stroke-width="1.4" opacity="0.7" fill="none"/>
<path d="M1990 1234 L2170 1231" stroke="#9a9aa2" stroke-width="1.8" opacity="0.8"/>
<text x="2199" y="1222" font-family='"Liberation Sans", sans-serif' font-size="26" fill="#2e2e58" textLength="42" lengthAdjust="spacingAndGlyphs">nsa</text>
<ellipse cx="2195" cy="1214" rx="4" ry="8" fill="#2e2e58"/><ellipse cx="2247" cy="1214" rx="4" ry="8" fill="#2e2e58"/>
<rect x="2270" y="1202" width="30" height="26" fill="#c8805c"/>
</g>
</g></g>
</g>
<rect x="0" y="0" width="1193" height="221" fill="#000"/>
<rect x="0" y="1128" width="1193" height="222" fill="#000"/>
<g id="slide">
<rect x="0" y="221" width="1200" height="907.5" fill="#fff"/>
<text x="118" y="314.5" font-family='"Liberation Sans", sans-serif' font-size="57.5" fill="#0a0a0a" textLength="964" lengthAdjust="spacingAndGlyphs">Demographic Changes are changing</text>
<text x="259" y="394.5" font-family='"Liberation Sans", sans-serif' font-size="57.5" fill="#0a0a0a" textLength="680" lengthAdjust="spacingAndGlyphs">the face of HE worldwide</text>
<g id="chart" filter="url(#soft)">
<rect x="79" y="445" width="1001" height="578" fill="#e5e4e9"/>
<text x="160" y="489" font-family='"DejaVu Sans", "Liberation Sans", sans-serif' font-weight="700" font-size="33" fill="#0c0c0c" stroke="#0c0c0c" stroke-width="0.7" textLength="830" lengthAdjust="spacingAndGlyphs">The Changing Face of America,1950-2050</text>
<text x="109" y="538" font-family='"Liberation Sans", sans-serif' font-weight="700" font-size="24.5" fill="#111" stroke="#111" stroke-width="0.6" textLength="341" lengthAdjust="spacingAndGlyphs">Percent of Total Population</text>
<rect x="316" y="571" width="14" height="13" fill="#7e0704"/>
<text x="337.5" y="584" font-family='"DejaVu Sans", "Liberation Sans", sans-serif' font-weight="400" font-size="18" fill="#222" textLength="68.5" lengthAdjust="spacingAndGlyphs">White*</text>
<rect x="460" y="571" width="14" height="13" fill="#6d6379"/>
<text x="481" y="584" font-family='"DejaVu Sans", "Liberation Sans", sans-serif' font-weight="400" font-size="18" fill="#222" textLength="65.5" lengthAdjust="spacingAndGlyphs">Black*</text>
<rect x="600" y="571" width="14" height="13" fill="#e8970c"/>
<text x="620" y="584" font-family='"DejaVu Sans", "Liberation Sans", sans-serif' font-weight="700" font-size="18" fill="#e8a43a" textLength="102.5" lengthAdjust="spacingAndGlyphs">Hispanic</text>
<rect x="776" y="571" width="14" height="13" fill="#1d7a12"/>
<text x="796.5" y="584" font-family='"DejaVu Sans", "Liberation Sans", sans-serif' font-weight="400" font-size="18" fill="#222" textLength="67.5" lengthAdjust="spacingAndGlyphs">Asian*</text>
<rect x="143.6" y="602.5" width="61.5" height="381.5" fill="#1d7a12"/>
<rect x="143.6" y="604.0" width="61.5" height="380.0" fill="#e8970c"/>
<rect x="143.6" y="615.6" width="61.5" height="368.4" fill="#6d6379"/>
<rect x="143.6" y="653.2" width="61.5" height="330.8" fill="#7e0704"/>
<text transform="translate(174.3 824.2) scale(1.2 1)" text-anchor="middle" font-family='"Liberation Sans", sans-serif' font-weight="700" font-size="15.5" fill="#f0dcd8">87%</text>
<text transform="translate(174.3 638.5) scale(1.2 1)" text-anchor="middle" font-family='"Liberation Sans", sans-serif' font-weight="700" font-size="15.5" fill="#e8e4ee">10%</text>
<text transform="translate(174.3 613.9) scale(1.2 1)" text-anchor="middle" font-family='"Liberation Sans", sans-serif' font-weight="700" font-size="15.5" fill="#f6dca8">3%</text>
<text x="174.3" y="1005" text-anchor="middle" font-family='"DejaVu Sans", "Liberation Sans", sans-serif' font-size="14" fill="#48484c" textLength="38" lengthAdjust="spacingAndGlyphs">1950</text>
<rect x="211.4" y="602.5" width="61.5" height="381.5" fill="#1d7a12"/>
<rect x="211.4" y="605.4" width="61.5" height="378.6" fill="#e8970c"/>
<rect x="211.4" y="619.2" width="61.5" height="364.8" fill="#6d6379"/>
<rect x="211.4" y="659.1" width="61.5" height="324.9" fill="#7e0704"/>
<text transform="translate(242.2 827.1) scale(1.2 1)" text-anchor="middle" font-family='"Liberation Sans", sans-serif' font-weight="700" font-size="15.5" fill="#f0dcd8">85%</text>
<text transform="translate(242.2 643.3) scale(1.2 1)" text-anchor="middle" font-family='"Liberation Sans", sans-serif' font-weight="700" font-size="15.5" fill="#e8e4ee">11%</text>
<text transform="translate(242.2 616.4) scale(1.2 1)" text-anchor="middle" font-family='"Liberation Sans", sans-serif' font-weight="700" font-size="15.5" fill="#f6dca8">4%</text>
<text x="242.2" y="1005" text-anchor="middle" font-family='"DejaVu Sans", "Liberation Sans", sans-serif' font-size="14" fill="#48484c" textLength="38" lengthAdjust="spacingAndGlyphs">1960</text>
<rect x="279.6" y="603.4" width="61.5" height="380.6" fill="#1d7a12"/>
<rect x="279.6" y="606.6" width="61.5" height="377.4" fill="#e8970c"/>
<rect x="279.6" y="626.4" width="61.5" height="357.6" fill="#6d6379"/>
<rect x="279.6" y="667.6" width="61.5" height="316.4" fill="#7e0704"/>
<text transform="translate(310.4 831.4) scale(1.2 1)" text-anchor="middle" font-family='"Liberation Sans", sans-serif' font-weight="700" font-size="15.5" fill="#f0dcd8">83%</text>
<text transform="translate(310.4 651.1) scale(1.2 1)" text-anchor="middle" font-family='"Liberation Sans", sans-serif' font-weight="700" font-size="15.5" fill="#e8e4ee">11%</text>
<text transform="translate(310.4 620.6) scale(1.2 1)" text-anchor="middle" font-family='"Liberation Sans", sans-serif' font-weight="700" font-size="15.5" fill="#f6dca8">5%</text>
<text x="310.4" y="1005" text-anchor="middle" font-family='"DejaVu Sans", "Liberation Sans", sans-serif' font-size="14" fill="#48484c" textLength="38" lengthAdjust="spacingAndGlyphs">1970</text>
<rect x="348.0" y="604" width="61.5" height="380.0" fill="#1d7a12"/>
<rect x="348.0" y="610.2" width="61.5" height="373.8" fill="#e8970c"/>
<rect x="348.0" y="635.9" width="61.5" height="348.1" fill="#6d6379"/>
<rect x="348.0" y="680.1" width="61.5" height="303.9" fill="#7e0704"/>
<text transform="translate(378.8 837.6) scale(1.2 1)" text-anchor="middle" font-family='"Liberation Sans", sans-serif' font-weight="700" font-size="15.5" fill="#f0dcd8">80%</text>
<text transform="translate(378.8 662.1) scale(1.2 1)" text-anchor="middle" font-family='"Liberation Sans", sans-serif' font-weight="700" font-size="15.5" fill="#e8e4ee">12%</text>
<text transform="translate(378.8 627.1) scale(1.2 1)" text-anchor="middle" font-family='"Liberation Sans", sans-serif' font-weight="700" font-size="15.5" fill="#f6dca8">6%</text>
<text x="378.8" y="1005" text-anchor="middle" font-family='"DejaVu Sans", "Liberation Sans", sans-serif' font-size="14" fill="#48484c" textLength="38" lengthAdjust="spacingAndGlyphs">1980</text>
<rect x="416.4" y="604" width="61.5" height="380.0" fill="#1d7a12"/>
<rect x="416.4" y="615.6" width="61.5" height="368.4" fill="#e8970c"/>
<rect x="416.4" y="649.6" width="61.5" height="334.4" fill="#6d6379"/>
<rect x="416.4" y="694.4" width="61.5" height="289.6" fill="#7e0704"/>
<text transform="translate(447.1 844.8) scale(1.2 1)" text-anchor="middle" font-family='"Liberation Sans", sans-serif' font-weight="700" font-size="15.5" fill="#f0dcd8">76%</text>
<text transform="translate(447.1 676.1) scale(1.2 1)" text-anchor="middle" font-family='"Liberation Sans", sans-serif' font-weight="700" font-size="15.5" fill="#e8e4ee">12%</text>
<text transform="translate(447.1 636.7) scale(1.2 1)" text-anchor="middle" font-family='"Liberation Sans", sans-serif' font-weight="700" font-size="15.5" fill="#f6dca8">9%</text>
<text x="447.1" y="1005" text-anchor="middle" font-family='"DejaVu Sans", "Liberation Sans", sans-serif' font-size="14" fill="#48484c" textLength="38" lengthAdjust="spacingAndGlyphs">1990</text>
<rect x="485.0" y="604" width="61.5" height="380.0" fill="#1d7a12"/>
<rect x="485.0" y="621.5" width="61.5" height="362.5" fill="#e8970c"/>
<rect x="485.0" y="669.9" width="61.5" height="314.1" fill="#6d6379"/>
<rect x="485.0" y="718.3" width="61.5" height="265.7" fill="#7e0704"/>
<text transform="translate(515.8 856.8) scale(1.2 1)" text-anchor="middle" font-family='"Liberation Sans", sans-serif' font-weight="700" font-size="15.5" fill="#f0dcd8">70%</text>
<text transform="translate(515.8 698.2) scale(1.2 1)" text-anchor="middle" font-family='"Liberation Sans", sans-serif' font-weight="700" font-size="15.5" fill="#e8e4ee">13%</text>
<text transform="translate(515.8 649.8) scale(1.2 1)" text-anchor="middle" font-family='"Liberation Sans", sans-serif' font-weight="700" font-size="15.5" fill="#f6dca8">13%</text>
<text x="515.8" y="1005" text-anchor="middle" font-family='"DejaVu Sans", "Liberation Sans", sans-serif' font-size="14" fill="#48484c" textLength="38" lengthAdjust="spacingAndGlyphs">2000</text>
<rect x="621.4" y="604.6" width="61.5" height="379.4" fill="#1d7a12"/>
<rect x="621.4" y="623.7" width="61.5" height="360.3" fill="#e8970c"/>
<rect x="621.4" y="680.6" width="61.5" height="303.4" fill="#6d6379"/>
<rect x="621.4" y="726.7" width="61.5" height="257.3" fill="#7e0704"/>
<text transform="translate(652.1 861.0) scale(1.2 1)" text-anchor="middle" font-family='"Liberation Sans", sans-serif' font-weight="700" font-size="15.5" fill="#f0dcd8">67%</text>
<text transform="translate(652.1 707.8) scale(1.2 1)" text-anchor="middle" font-family='"Liberation Sans", sans-serif' font-weight="700" font-size="15.5" fill="#e8e4ee">13%</text>
<text transform="translate(652.1 656.3) scale(1.2 1)" text-anchor="middle" font-family='"Liberation Sans", sans-serif' font-weight="700" font-size="15.5" fill="#f6dca8">14%</text>
<text transform="translate(652.1 618.3) scale(1.2 1)" text-anchor="middle" font-family='"Liberation Sans", sans-serif' font-weight="700" font-size="15.5" fill="#d8ecd2">5%</text>
<text x="652.1" y="1005" text-anchor="middle" font-family='"DejaVu Sans", "Liberation Sans", sans-serif' font-size="14" fill="#48484c" textLength="38" lengthAdjust="spacingAndGlyphs">2005</text>
<rect x="689.0" y="604.6" width="61.5" height="379.4" fill="#1d7a12"/>
<rect x="689.0" y="625.8" width="61.5" height="358.2" fill="#e8970c"/>
<rect x="689.0" y="688.2" width="61.5" height="295.8" fill="#6d6379"/>
<rect x="689.0" y="734.8" width="61.5" height="249.2" fill="#7e0704"/>
<text transform="translate(719.8 865.0) scale(1.2 1)" text-anchor="middle" font-family='"Liberation Sans", sans-serif' font-weight="700" font-size="15.5" fill="#f0dcd8">65%</text>
<text transform="translate(719.8 715.6) scale(1.2 1)" text-anchor="middle" font-family='"Liberation Sans", sans-serif' font-weight="700" font-size="15.5" fill="#e8e4ee">13%</text>
<text transform="translate(719.8 661.1) scale(1.2 1)" text-anchor="middle" font-family='"Liberation Sans", sans-serif' font-weight="700" font-size="15.5" fill="#f6dca8">16%</text>
<text transform="translate(719.8 619.3) scale(1.2 1)" text-anchor="middle" font-family='"Liberation Sans", sans-serif' font-weight="700" font-size="15.5" fill="#d8ecd2">5%</text>
<text x="719.8" y="1005" text-anchor="middle" font-family='"DejaVu Sans", "Liberation Sans", sans-serif' font-size="14" fill="#48484c" textLength="38" lengthAdjust="spacingAndGlyphs">2010</text>
<rect x="757.4" y="604.6" width="61.5" height="379.4" fill="#1d7a12"/>
<rect x="757.4" y="628.7" width="61.5" height="355.3" fill="#e8970c"/>
<rect x="757.4" y="704.7" width="61.5" height="279.3" fill="#6d6379"/>
<rect x="757.4" y="753.6" width="61.5" height="230.4" fill="#7e0704"/>
<text transform="translate(788.1 874.4) scale(1.2 1)" text-anchor="middle" font-family='"Liberation Sans", sans-serif' font-weight="700" font-size="15.5" fill="#f0dcd8">60%</text>
<text transform="translate(788.1 733.3) scale(1.2 1)" text-anchor="middle" font-family='"Liberation Sans", sans-serif' font-weight="700" font-size="15.5" fill="#e8e4ee">13%</text>
<text transform="translate(788.1 670.8) scale(1.2 1)" text-anchor="middle" font-family='"Liberation Sans", sans-serif' font-weight="700" font-size="15.5" fill="#f6dca8">19%</text>
<text transform="translate(788.1 620.8) scale(1.2 1)" text-anchor="middle" font-family='"Liberation Sans", sans-serif' font-weight="700" font-size="15.5" fill="#d8ecd2">6%</text>
<text x="788.1" y="1005" text-anchor="middle" font-family='"DejaVu Sans", "Liberation Sans", sans-serif' font-size="14" fill="#48484c" textLength="38" lengthAdjust="spacingAndGlyphs">2020</text>
<rect x="825.6" y="604.6" width="61.5" height="379.4" fill="#1d7a12"/>
<rect x="825.6" y="633.0" width="61.5" height="351.0" fill="#e8970c"/>
<rect x="825.6" y="720.4" width="61.5" height="263.6" fill="#6d6379"/>
<rect x="825.6" y="770.6" width="61.5" height="213.4" fill="#7e0704"/>
<text transform="translate(856.4 882.9) scale(1.2 1)" text-anchor="middle" font-family='"Liberation Sans", sans-serif' font-weight="700" font-size="15.5" fill="#f0dcd8">56%</text>
<text transform="translate(856.4 749.6) scale(1.2 1)" text-anchor="middle" font-family='"Liberation Sans", sans-serif' font-weight="700" font-size="15.5" fill="#e8e4ee">13%</text>
<text transform="translate(856.4 680.8) scale(1.2 1)" text-anchor="middle" font-family='"Liberation Sans", sans-serif' font-weight="700" font-size="15.5" fill="#f6dca8">23%</text>
<text transform="translate(856.4 622.9) scale(1.2 1)" text-anchor="middle" font-family='"Liberation Sans", sans-serif' font-weight="700" font-size="15.5" fill="#d8ecd2">7%</text>
<text x="856.4" y="1005" text-anchor="middle" font-family='"DejaVu Sans", "Liberation Sans", sans-serif' font-size="14" fill="#48484c" textLength="38" lengthAdjust="spacingAndGlyphs">2030</text>
<rect x="894.4" y="604.6" width="61.5" height="379.4" fill="#1d7a12"/>
<rect x="894.4" y="637.1" width="61.5" height="346.9" fill="#e8970c"/>
<rect x="894.4" y="738.0" width="61.5" height="246.0" fill="#6d6379"/>
<rect x="894.4" y="788.2" width="61.5" height="195.8" fill="#7e0704"/>
<text transform="translate(925.1 891.7) scale(1.2 1)" text-anchor="middle" font-family='"Liberation Sans", sans-serif' font-weight="700" font-size="15.5" fill="#f0dcd8">52%</text>
<text transform="translate(925.1 767.2) scale(1.2 1)" text-anchor="middle" font-family='"Liberation Sans", sans-serif' font-weight="700" font-size="15.5" fill="#e8e4ee">14%</text>
<text transform="translate(925.1 691.6) scale(1.2 1)" text-anchor="middle" font-family='"Liberation Sans", sans-serif' font-weight="700" font-size="15.5" fill="#f6dca8">26%</text>
<text transform="translate(925.1 625.0) scale(1.2 1)" text-anchor="middle" font-family='"Liberation Sans", sans-serif' font-weight="700" font-size="15.5" fill="#d8ecd2">8%</text>
<text x="925.1" y="1005" text-anchor="middle" font-family='"DejaVu Sans", "Liberation Sans", sans-serif' font-size="14" fill="#48484c" textLength="38" lengthAdjust="spacingAndGlyphs">2040</text>
<rect x="962.6" y="604.6" width="61.5" height="379.4" fill="#1d7a12"/>
<rect x="962.6" y="641.2" width="61.5" height="342.8" fill="#e8970c"/>
<rect x="962.6" y="754.1" width="61.5" height="229.9" fill="#6d6379"/>
<rect x="962.6" y="803.7" width="61.5" height="180.3" fill="#7e0704"/>
<text transform="translate(993.4 899.5) scale(1.2 1)" text-anchor="middle" font-family='"Liberation Sans", sans-serif' font-weight="700" font-size="15.5" fill="#f0dcd8">47%</text>
<text transform="translate(993.4 783.0) scale(1.2 1)" text-anchor="middle" font-family='"Liberation Sans", sans-serif' font-weight="700" font-size="15.5" fill="#e8e4ee">13%</text>
<text transform="translate(993.4 701.8) scale(1.2 1)" text-anchor="middle" font-family='"Liberation Sans", sans-serif' font-weight="700" font-size="15.5" fill="#f6dca8">29%</text>
<text transform="translate(993.4 627.0) scale(1.2 1)" text-anchor="middle" font-family='"Liberation Sans", sans-serif' font-weight="700" font-size="15.5" fill="#d8ecd2">9%</text>
<text x="993.4" y="1005" text-anchor="middle" font-family='"DejaVu Sans", "Liberation Sans", sans-serif' font-size="14" fill="#48484c" textLength="38" lengthAdjust="spacingAndGlyphs">2050</text>
<rect x="138" y="983.5" width="889" height="2.5" fill="#8a8a8e"/>
</g>
<text x="285" y="1057.5" font-family='"Liberation Sans", sans-serif' font-size="27.3" fill="#0a0a0a" textLength="861" lengthAdjust="spacingAndGlyphs">Source: https://uk.pinterest.com/explore/racial-demographics-of-usa/</text>
<g fill="#e4e4e4" opacity="0.9">
<path d="M6 1105 l10 -7 v4 h8 v7 h-8 v4 z"/>
<path d="M48 1112 l14 -13 3 3 -14 13 z"/>
<rect x="88" y="1098" width="18" height="3"/><rect x="88" y="1104" width="18" height="3"/><rect x="88" y="1110" width="18" height="3"/>
<path d="M146 1105 l-10 -7 v4 h-8 v7 h8 v4 z"/>
</g>

</g>
</svg>
</body></html>
